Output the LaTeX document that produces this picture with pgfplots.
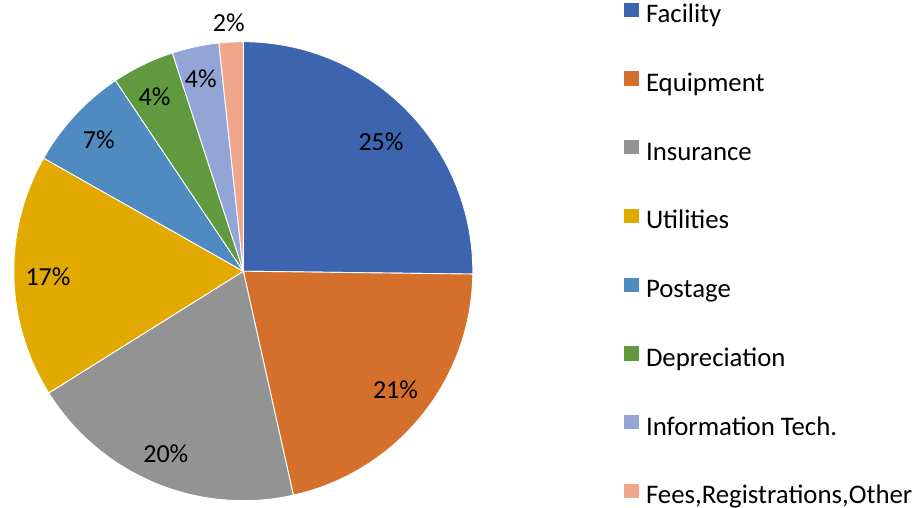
\documentclass[border=0pt]{standalone}
\usepackage{fontspec}
\setmainfont{Carlito}
\usepackage{pgfplots}
\pgfplotsset{compat=1.18}
\definecolor{cFac}{HTML}{3D64AE}
\definecolor{cEqu}{HTML}{D46F2C}
\definecolor{cIns}{HTML}{939393}
\definecolor{cUti}{HTML}{E2AA00}
\definecolor{cPos}{HTML}{4F8AC0}
\definecolor{cDep}{HTML}{619A3E}
\definecolor{cInf}{HTML}{93A5D6}
\definecolor{cFee}{HTML}{F0A68A}
\newcommand\fsz{\fontsize{26bp}{31bp}\selectfont}
\newcommand\lsz{\fontsize{26.8bp}{32bp}\selectfont}
% shares in percent
\def\pFac{25.2}\def\pEqu{21.3}\def\pIns{19.6}\def\pUti{17.1}
\def\pPos{7.4}\def\pDep{4.4}\def\pInf{3.3}\def\pFee{1.7}
\def\cx{243.3}\def\cy{236.8}\def\R{229.5}
\newcommand\slice[3]{%
  \addplot[fill=#3, draw=white, line width=0.9bp, domain=#1:#2, samples=150, variable=\t]
    ({\cx+\R*cos(\t)},{\cy+\R*sin(\t)}) -- (axis cs:\cx,\cy) -- cycle;}
\begin{document}
\begin{tikzpicture}
\pgfmathsetmacro\aA{90}
\pgfmathsetmacro\aB{\aA-3.6*\pFac}
\pgfmathsetmacro\aC{\aB-3.6*\pEqu}
\pgfmathsetmacro\aD{\aC-3.6*\pIns}
\pgfmathsetmacro\aE{\aD-3.6*\pUti}
\pgfmathsetmacro\aF{\aE-3.6*\pPos}
\pgfmathsetmacro\aG{\aF-3.6*\pDep}
\pgfmathsetmacro\aH{\aG-3.6*\pInf}
\pgfmathsetmacro\aI{\aH-3.6*\pFee}
\path[use as bounding box] (0,0) rectangle (917bp,508bp);
\begin{axis}[
  at={(0,0)}, anchor=south west,
  scale only axis, width=917bp, height=508bp,
  xmin=0, xmax=917, ymin=0, ymax=508,
  hide axis, clip=false,
  legend cell align=left,
  legend image code/.code={\fill[#1, draw=none] (0bp,-0.7bp) rectangle (15bp,13.6bp);},
  legend style={at={(axis cs:624,505.2)}, anchor=north west, draw=none, fill=none,
    inner sep=0pt, outer sep=0pt, row sep=42.6bp, column sep=7bp,
    nodes={inner sep=0pt, outer sep=0pt, text height=19bp, text depth=6bp, font=\lsz}},
]
\slice{\aB}{\aA}{cFac}\addlegendentry{Facility}
\slice{\aC}{\aB}{cEqu}\addlegendentry{Equipment}
\slice{\aD}{\aC}{cIns}\addlegendentry{Insurance}
\slice{\aE}{\aD}{cUti}\addlegendentry{Utilities}
\slice{\aF}{\aE}{cPos}\addlegendentry{Postage}
\slice{\aG}{\aF}{cDep}\addlegendentry{Depreciation}
\slice{\aH}{\aG}{cInf}\addlegendentry{Information Tech.}
\slice{\aI}{\aH}{cFee}\addlegendentry{Fees,Registrations,Other}
\begin{scope}[every node/.style={font=\fsz, inner sep=0pt, anchor=center}]
\node at (axis cs:381,366.7) {25\%};
\node at (axis cs:395.5,118.5) {21\%};
\node at (axis cs:165.8,54.3) {20\%};
\node at (axis cs:48,231) {17\%};
\node at (axis cs:98.8,368.3) {7\%};
\node at (axis cs:154.5,411.3) {4\%};
\node at (axis cs:200.8,429.7) {4\%};
\node at (axis cs:228.8,485.2) {2\%};
\end{scope}
\end{axis}
\end{tikzpicture}
\end{document}
